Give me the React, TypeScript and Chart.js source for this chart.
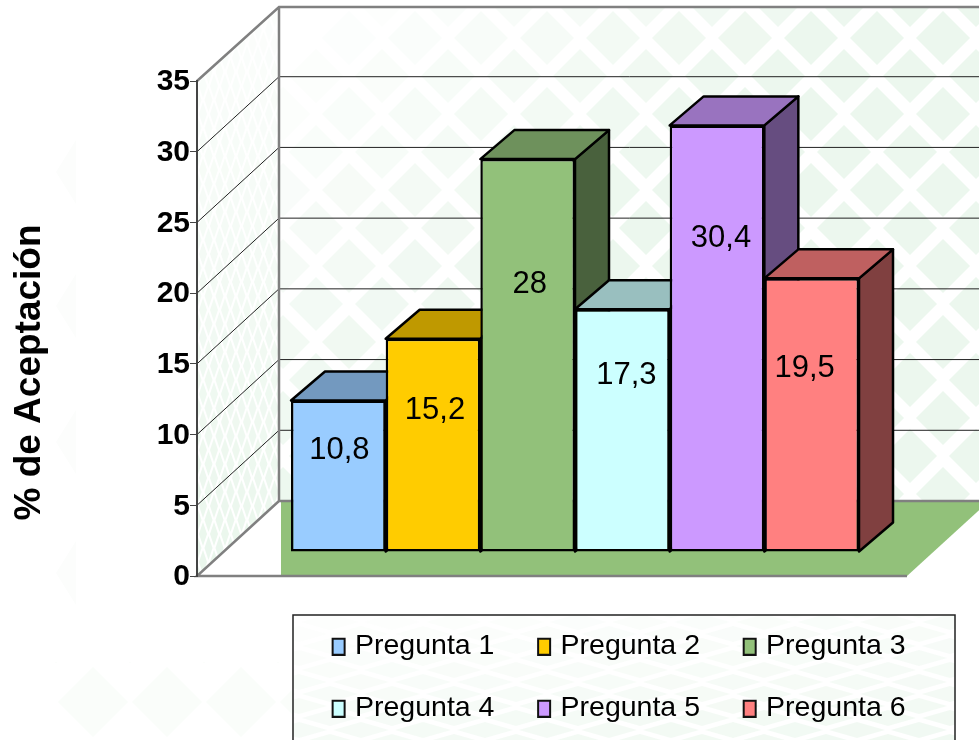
import React, { useEffect, useRef } from "react";
import { Chart, registerables } from "chart.js";

Chart.register(...registerables);

const categories = ["Aceptación"];
const seriesNames = ["Pregunta 1", "Pregunta 2", "Pregunta 3", "Pregunta 4", "Pregunta 5", "Pregunta 6"];
const seriesValues = [10.8, 15.2, 28, 17.3, 30.4, 19.5];
const seriesColors = ["#99CCFF", "#FFCC00", "#92C17A", "#CCFFFF", "#CC99FF", "#FF8080"];
const labelDrop = [50, 72, 125, 66, 113, 90];
const labelShift = [1, 2, 2, 4, 4, -7];
const axisTitle = "% de Aceptación";
const FONT = '"Liberation Sans", Arial, sans-serif';

const WALL = { dx: 82, dy: -75 };
const BAR = { dx: 23, dy: -24, depthX: 34, depthY: -29, scale: 14 / 14.11 };

function shade(hex: string, f: number) {
  const n = parseInt(hex.slice(1), 16);
  const c = [(n >> 16) & 255, (n >> 8) & 255, n & 255].map((v) => Math.round(v * f));
  return `rgb(${c[0]},${c[1]},${c[2]})`;
}

function poly(ctx: CanvasRenderingContext2D, pts: number[][]) {
  ctx.beginPath();
  pts.forEach((p, i) => (i ? ctx.lineTo(p[0], p[1]) : ctx.moveTo(p[0], p[1])));
  ctx.closePath();
}

function lattice(
  ctx: CanvasRenderingContext2D,
  x0: number, x1: number, y0: number, y1: number,
  ox: number, oy: number, px: number, py: number, hw: number, hh: number,
  alpha: (x: number, y: number) => number,
  rgb = "232,245,234"
) {
  const r0 = Math.floor((y0 - oy) / py) - 1;
  const r1 = Math.ceil((y1 - oy) / py) + 1;
  for (let r = r0; r <= r1; r++) {
    const y = oy + r * py;
    const off = r % 2 ? px / 2 : 0;
    for (let x = ox + off + Math.floor((x0 - ox) / px - 1) * px; x < x1 + px; x += px) {
      ctx.fillStyle = `rgba(${rgb},${Math.max(0, Math.min(1, alpha(x, y)))})`;
      poly(ctx, [[x - hw, y], [x, y - hh], [x + hw, y], [x, y + hh]]);
      ctx.fill();
    }
  }
}

function legendSwatch(color: string) {
  const c = document.createElement("canvas");
  c.width = 40;
  c.height = 20;
  const g = c.getContext("2d")!;
  g.fillStyle = color;
  g.strokeStyle = "#111";
  g.lineWidth = 2;
  g.fillRect(21, 3, 12, 16);
  g.strokeRect(21, 3, 12, 16);
  return c;
}

const scene3d = {
  id: "scene3d",
  afterLayout(chart: any) {
    const lg = chart.legend;
    lg.left = 288.9;
    lg.right = lg.left + 700;
    lg.top = 598;
    lg.bottom = 740;
    const tb = chart.titleBlock;
    tb.top = 0;
    tb.bottom = 745;
  },
  beforeDraw(chart: any) {
    const { ctx, chartArea: a, scales } = chart;
    const y = scales.y;
    ctx.save();
    ctx.fillStyle = "#fff";
    ctx.fillRect(0, 0, chart.width, chart.height);

    // slide background, very faint
    ctx.save();
    ctx.beginPath();
    ctx.rect(55, 100, 21, 540);
    ctx.clip();
    [172, 306, 442, 573].forEach((c) => {
      ctx.fillStyle = "#FCFDFC";
      poly(ctx, [[56, c], [76, c - 32], [96, c], [76, c + 32]]);
      ctx.fill();
    });
    ctx.restore();
    ctx.save();
    ctx.beginPath();
    ctx.rect(55, 662, 240, 78);
    ctx.clip();
    lattice(ctx, 55, 295, 662, 740, 93, 702, 74, 74, 35, 35, () => 0.22);
    ctx.restore();

    // back wall
    const backBottom = y.getPixelForValue(0) + WALL.dy;
    const backTop = y.getPixelForValue(35) + WALL.dy + 1;
    const backLeft = a.left + WALL.dx;
    const backRight = a.right + WALL.dx;
    ctx.save();
    ctx.beginPath();
    ctx.rect(backLeft, backTop, backRight - backLeft, backBottom - backTop);
    ctx.clip();
    lattice(ctx, backLeft, backRight, backTop, backBottom, 415, 38, 66, 38, 27, 27,
      (px, py) => -0.05 + (px - backLeft) / 550 + (py - backTop) / 500, "236,247,238");
    ctx.restore();

    // side wall
    const wallPts = [
      [a.left, a.top],
      [backLeft, backTop],
      [backLeft, backBottom],
      [a.left, a.bottom],
    ];
    ctx.save();
    poly(ctx, wallPts);
    ctx.clip();
    lattice(ctx, a.left, backLeft, backTop, a.bottom, 203, 30, 11, 14, 4, 12,
      (_px, py) => 0.1 + py / 900, "226,243,229");
    ctx.restore();

    // floor
    ctx.fillStyle = "#92C17A";
    poly(ctx, [
      [backLeft + 2, backBottom],
      [backRight, backBottom],
      [a.right, a.bottom],
      [backLeft + 2, a.bottom],
    ]);
    ctx.fill();

    // grid lines on both walls
    ctx.strokeStyle = "#222";
    ctx.lineWidth = 1;
    y.ticks.forEach((t: any) => {
      const py = y.getPixelForValue(t.value);
      if (t.value === 0 || t.value === 35) return;
      ctx.beginPath();
      ctx.moveTo(a.left, py);
      ctx.lineTo(backLeft, py + WALL.dy);
      ctx.lineTo(backRight, py + WALL.dy);
      ctx.stroke();
    });

    // wall outlines
    ctx.strokeStyle = "#808080";
    ctx.lineWidth = 2.5;
    ctx.beginPath();
    ctx.moveTo(a.left, a.top);
    ctx.lineTo(backLeft, backTop);
    ctx.lineTo(backRight, backTop);
    ctx.moveTo(backLeft, backTop);
    ctx.lineTo(backLeft, backBottom);
    ctx.lineTo(backRight, backBottom);
    ctx.moveTo(backLeft, backBottom);
    ctx.lineTo(a.left, a.bottom);
    ctx.lineTo(a.right, a.bottom);
    ctx.stroke();

    // legend frame
    const fx = 293, fy = 615, fw = 662, fh = 130;
    ctx.fillStyle = "#fff";
    ctx.fillRect(fx, fy, fw, fh);
    ctx.save();
    ctx.beginPath();
    ctx.rect(fx, fy, fw, fh);
    ctx.clip();
    lattice(ctx, fx, fx + fw, fy, fy + fh, 330, 622, 62, 12, 28, 8,
      (px, py) => 0.05 + (py - fy) / 350 + (px - fx) / 3000);
    ctx.restore();
    ctx.strokeStyle = "#222";
    ctx.lineWidth = 1.5;
    ctx.strokeRect(fx, fy, fw, fh);
    ctx.restore();
  },
  beforeDatasetsDraw(chart: any) {
    const { ctx, chartArea: a } = chart;
    ctx.save();
    ctx.translate(BAR.dx, BAR.dy + a.bottom * (1 - BAR.scale));
    ctx.scale(1, BAR.scale);
    const dx = BAR.depthX;
    const dy = BAR.depthY / BAR.scale;
    ctx.strokeStyle = "#000";
    ctx.lineWidth = 2.5;
    ctx.lineJoin = "round";
    seriesColors.forEach((col, i) => {
      const el = chart.getDatasetMeta(i).data[0];
      const l = el.x - el.width / 2;
      const r = el.x + el.width / 2;
      const t = el.y;
      const b = el.base;
      ctx.fillStyle = shade(col, 0.5);
      poly(ctx, [[r, t], [r + dx, t + dy], [r + dx, b + dy], [r, b]]);
      ctx.fill();
      ctx.stroke();
      ctx.fillStyle = shade(col, 0.75);
      poly(ctx, [[l, t], [l + dx, t + dy], [r + dx, t + dy], [r, t]]);
      ctx.fill();
      ctx.stroke();
    });
  },
  afterDatasetsDraw(chart: any) {
    const { ctx, chartArea: a } = chart;
    ctx.restore();
    ctx.save();
    ctx.fillStyle = "#000";
    ctx.font = `31px ${FONT}`;
    ctx.textAlign = "center";
    ctx.textBaseline = "middle";
    seriesValues.forEach((v, i) => {
      const el = chart.getDatasetMeta(i).data[0];
      const top = a.bottom + BAR.dy + (el.y - a.bottom) * BAR.scale;
      ctx.fillText(String(v).replace(".", ","), el.x + BAR.dx + labelShift[i], top + labelDrop[i]);
    });
    ctx.restore();
  },
};

export default function App() {
  const ref = useRef<HTMLCanvasElement | null>(null);
  useEffect(() => {
    document.body.style.margin = "0";
    const chart = new Chart(ref.current!, {
      type: "bar",
      plugins: [scene3d],
      data: {
        labels: categories,
        datasets: seriesNames.map((name, i) => ({
          label: name,
          data: [seriesValues[i]],
          backgroundColor: seriesColors[i],
          borderColor: "#000",
          borderWidth: 2.5,
          borderSkipped: false,
          clip: false,
          categoryPercentage: 0.8,
          barPercentage: 1,
        })),
      } as any,
      options: {
        animation: false,
        responsive: false,
        layout: { autoPadding: false, padding: { left: 0, top: 81, right: 72, bottom: 30 } },
        scales: {
          x: { type: "category", display: false },
          y: {
            min: 0,
            max: 35,
            afterFit: (s: any) => {
              s.width = 149;
            },
            ticks: {
              stepSize: 5,
              autoSkip: false,
              padding: 0,
              labelOffset: 1,
              color: "#000",
              font: { family: FONT, size: 30, weight: "bold" },
            },
            grid: { drawOnChartArea: false, drawTicks: true, tickLength: 7, tickColor: "#444", tickWidth: 1 },
            border: { display: true, color: "#444", width: 2 },
          },
        },
        plugins: {
          tooltip: { enabled: false },
          title: {
            display: true,
            position: "left",
            text: axisTitle,
            color: "#000",
            font: { family: FONT, size: 37, weight: "bold", lineHeight: 1 },
            padding: { top: 11, bottom: 0 },
          },
          legend: {
            display: true,
            position: "bottom",
            fullSize: false,
            align: "start",
            labels: {
              color: "#000",
              font: { family: FONT, size: 28.5 },
              padding: 33.5,
              usePointStyle: true,
              pointStyleWidth: 18.35,
              generateLabels: (c: any) =>
                (Chart.defaults.plugins.legend.labels as any).generateLabels(c).map((it: any, i: number) => ({
                  ...it,
                  pointStyle: legendSwatch(seriesColors[i]),
                })),
            },
          },
        },
      } as any,
    });
    return () => chart.destroy();
  }, []);
  return <canvas ref={ref} width={979} height={740} style={{ display: "block", width: 979, height: 740 }} />;
}
